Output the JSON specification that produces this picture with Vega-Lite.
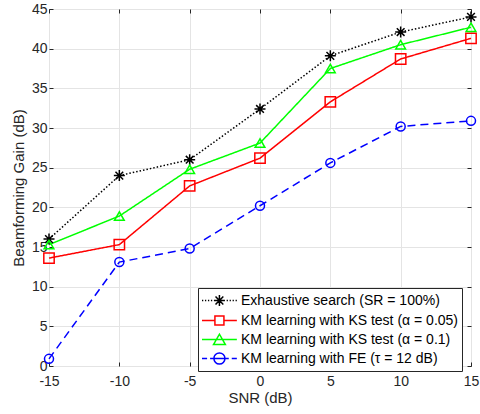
{
  "$schema": "https://vega.github.io/schema/vega-lite/v6.json",
  "width": 422,
  "height": 357,
  "autosize": {"type": "none"},
  "padding": {"left": 49, "top": 9, "right": 9, "bottom": 48},
  "background": "white",
  "config": {
    "view": {"stroke": "#262626", "strokeWidth": 1},
    "font": "Liberation Sans",
    "axis": {
      "domain": false,
      "grid": true,
      "gridColor": "#e4e4e4",
      "gridWidth": 1,
      "tickColor": "#262626",
      "tickSize": -4,
      "labelFlush": false,
      "labelFont": "Liberation Sans",
      "labelFontSize": 14,
      "labelColor": "#262626",
      "titleFont": "Liberation Sans",
      "titleFontSize": 15,
      "titleFontWeight": "normal",
      "titleColor": "#262626"
    },
    "legend": {
      "orient": "none",
      "legendX": 149,
      "legendY": 279,
      "strokeColor": "#262626",
      "fillColor": "white",
      "padding": 3,
      "labelFont": "Liberation Sans",
      "labelFontSize": 14,
      "labelColor": "#000000",
      "labelOffset": 21,
      "labelLimit": 400,
      "symbolSize": 289,
      "symbolStrokeWidth": 1.5,
      "symbolOpacity": 1,
      "rowPadding": 1
    }
  },
  "data": {
    "values": [
      {"series": "Exhaustive search (SR = 100%)", "snr": -15, "gain": 16.0},
      {"series": "Exhaustive search (SR = 100%)", "snr": -10, "gain": 24.0},
      {"series": "Exhaustive search (SR = 100%)", "snr": -5, "gain": 26.0},
      {"series": "Exhaustive search (SR = 100%)", "snr": 0, "gain": 32.4},
      {"series": "Exhaustive search (SR = 100%)", "snr": 5, "gain": 39.1},
      {"series": "Exhaustive search (SR = 100%)", "snr": 10, "gain": 42.1},
      {"series": "Exhaustive search (SR = 100%)", "snr": 15, "gain": 44.0},
      {"series": "KM learning with KS test (α = 0.05)", "snr": -15, "gain": 13.6},
      {"series": "KM learning with KS test (α = 0.05)", "snr": -10, "gain": 15.3},
      {"series": "KM learning with KS test (α = 0.05)", "snr": -5, "gain": 22.7},
      {"series": "KM learning with KS test (α = 0.05)", "snr": 0, "gain": 26.2},
      {"series": "KM learning with KS test (α = 0.05)", "snr": 5, "gain": 33.3},
      {"series": "KM learning with KS test (α = 0.05)", "snr": 10, "gain": 38.7},
      {"series": "KM learning with KS test (α = 0.05)", "snr": 15, "gain": 41.3},
      {"series": "KM learning with KS test (α = 0.1)", "snr": -15, "gain": 15.3},
      {"series": "KM learning with KS test (α = 0.1)", "snr": -10, "gain": 18.9},
      {"series": "KM learning with KS test (α = 0.1)", "snr": -5, "gain": 24.8},
      {"series": "KM learning with KS test (α = 0.1)", "snr": 0, "gain": 28.1},
      {"series": "KM learning with KS test (α = 0.1)", "snr": 5, "gain": 37.5},
      {"series": "KM learning with KS test (α = 0.1)", "snr": 10, "gain": 40.5},
      {"series": "KM learning with KS test (α = 0.1)", "snr": 15, "gain": 42.7},
      {"series": "KM learning with FE (τ = 12 dB)", "snr": -15, "gain": 0.9},
      {"series": "KM learning with FE (τ = 12 dB)", "snr": -10, "gain": 13.1},
      {"series": "KM learning with FE (τ = 12 dB)", "snr": -5, "gain": 14.8},
      {"series": "KM learning with FE (τ = 12 dB)", "snr": 0, "gain": 20.2},
      {"series": "KM learning with FE (τ = 12 dB)", "snr": 5, "gain": 25.6},
      {"series": "KM learning with FE (τ = 12 dB)", "snr": 10, "gain": 30.2},
      {"series": "KM learning with FE (τ = 12 dB)", "snr": 15, "gain": 30.9}
    ]
  },
  "layer": [
    {
      "mark": {"type": "line", "strokeWidth": 1.5},
      "encoding": {
        "x": {"field": "snr", "type": "quantitative", "scale": {"domain": [-15, 15]},
              "axis": {"values": [-15, -10, -5, 0, 5, 10, 15], "labelExpr": "replace(datum.label, '−', '-')", "title": "SNR (dB)", "labelPadding": 12, "titlePadding": 2}},
        "y": {"field": "gain", "type": "quantitative", "scale": {"domain": [0, 45]},
              "axis": {"values": [0, 5, 10, 15, 20, 25, 30, 35, 40, 45], "title": "Beamforming Gain (dB)", "labelPadding": 6, "titlePadding": 5}},
        "color": {"field": "series", "type": "nominal", "legend": null,
                  "scale": {"domain": ["Exhaustive search (SR = 100%)", "KM learning with KS test (α = 0.05)", "KM learning with KS test (α = 0.1)", "KM learning with FE (τ = 12 dB)"],
                            "range": ["#000000", "#ff0000", "#00ff00", "#0000ff"]}},
        "strokeDash": {"field": "series", "type": "nominal", "legend": null,
                  "scale": {"domain": ["Exhaustive search (SR = 100%)", "KM learning with KS test (α = 0.05)", "KM learning with KS test (α = 0.1)", "KM learning with FE (τ = 12 dB)"],
                            "range": [[1.5, 2], [1, 0], [1, 0], [8, 5]]}}
      }
    },
    {
      "mark": {"type": "point", "filled": false, "strokeWidth": 1.5, "opacity": 1},
      "encoding": {
        "x": {"field": "snr", "type": "quantitative", "scale": {"domain": [-15, 15]},
              "axis": {"orient": "top", "values": [-15, -10, -5, 0, 5, 10, 15], "labels": false, "grid": false, "title": null}},
        "y": {"field": "gain", "type": "quantitative", "scale": {"domain": [0, 45]},
              "axis": {"orient": "right", "values": [0, 5, 10, 15, 20, 25, 30, 35, 40, 45], "labels": false, "grid": false, "title": null}},
        "color": {"field": "series", "type": "nominal", "legend": null,
                  "scale": {"domain": ["Exhaustive search (SR = 100%)", "KM learning with KS test (α = 0.05)", "KM learning with KS test (α = 0.1)", "KM learning with FE (τ = 12 dB)"],
                            "range": ["#000000", "#ff0000", "#00ff00", "#0000ff"]}},
        "shape": {"field": "series", "type": "nominal", "legend": null,
                  "scale": {"domain": ["Exhaustive search (SR = 100%)", "KM learning with KS test (α = 0.05)", "KM learning with KS test (α = 0.1)", "KM learning with FE (τ = 12 dB)"],
                            "range": ["M-1,0H1M0,-1V1M-0.7,-0.7L0.7,0.7M-0.7,0.7L0.7,-0.7", "square", "triangle-up", "circle"]}},
        "size": {"field": "series", "type": "nominal", "legend": null,
                  "scale": {"domain": ["Exhaustive search (SR = 100%)", "KM learning with KS test (α = 0.05)", "KM learning with KS test (α = 0.1)", "KM learning with FE (τ = 12 dB)"],
                            "range": [121, 81, 144, 121]}}
      }
    },
    {
      "mark": {"type": "point", "filled": false, "strokeWidth": 1.5, "opacity": 0, "size": 289},
      "encoding": {
        "x": {"field": "snr", "type": "quantitative", "scale": {"domain": [-15, 15]}, "axis": null},
        "y": {"field": "gain", "type": "quantitative", "scale": {"domain": [0, 45]}, "axis": null},
        "color": {"field": "series", "type": "nominal", "legend": {"title": null},
                  "scale": {"domain": ["Exhaustive search (SR = 100%)", "KM learning with KS test (α = 0.05)", "KM learning with KS test (α = 0.1)", "KM learning with FE (τ = 12 dB)"],
                            "range": ["#000000", "#ff0000", "#00ff00", "#0000ff"]}},
        "shape": {"field": "series", "type": "nominal", "legend": {"title": null},
                  "scale": {"domain": ["Exhaustive search (SR = 100%)", "KM learning with KS test (α = 0.05)", "KM learning with KS test (α = 0.1)", "KM learning with FE (τ = 12 dB)"],
                            "range": [
                              "M-1,0H-0.85M-0.65,0H-0.5M-0.3,0H-0.15M0.05,0H0.2M0.4,0H1.7M1.05,-0.65V0.65M0.59,-0.46L1.51,0.46M0.59,0.46L1.51,-0.46M1.9,0H2.05M2.25,0H2.4M2.6,0H2.75M2.95,0H3.1",
                              "M-1,0H0.52M1.58,0H3.1M0.52,-0.53H1.58V0.53H0.52Z",
                              "M-1,0H3.1M0.35,0.6L1.05,-0.62L1.75,0.6Z",
                              "M-1,0H-0.4M-0.05,0H2.15M2.5,0H3.1M0.4,0A0.65,0.65 0 1,1 1.7,0A0.65,0.65 0 1,1 0.4,0"
                            ]}}
      }
    }
  ],
  "resolve": {
    "scale": {"color": "independent", "shape": "independent", "size": "independent", "strokeDash": "independent"},
    "axis": {"x": "independent", "y": "independent"}
  }
}
